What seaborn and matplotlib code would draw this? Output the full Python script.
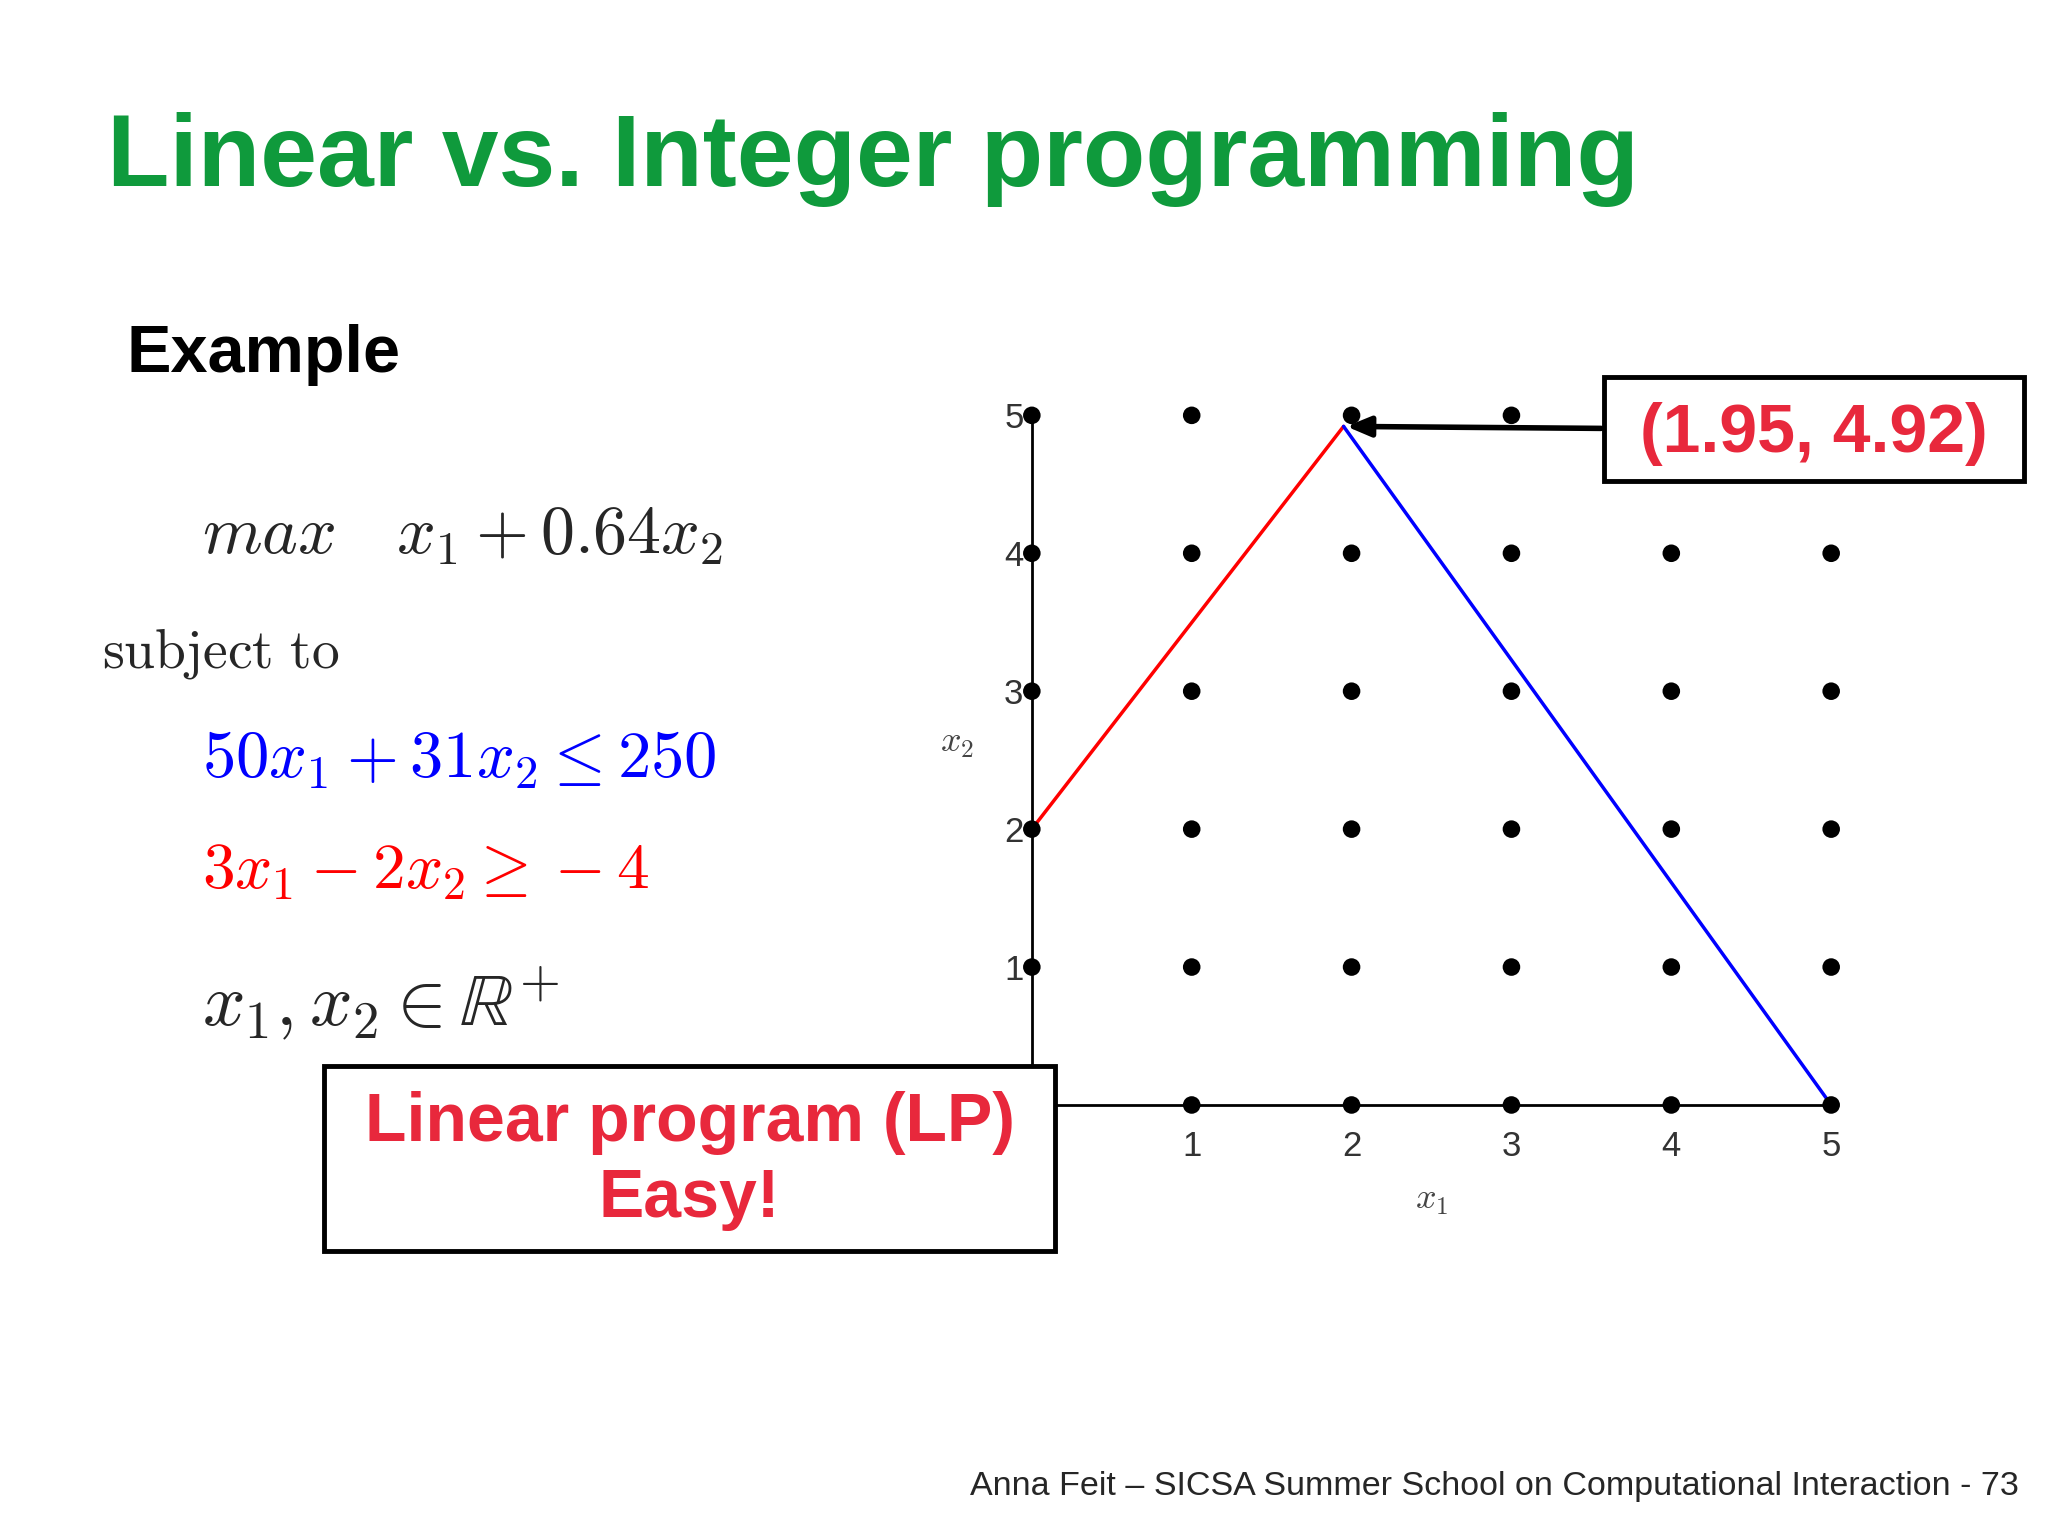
import matplotlib
matplotlib.use("Agg")
import matplotlib.pyplot as plt
import seaborn as sns
import pandas as pd
from matplotlib.patches import Rectangle

x_vals = [0,1,2,3, 0,1,2,3,4,5, 0,1,2,3,4,5, 0,1,2,3,4,5, 0,1,2,3,4,5, 0,1,2,3,4,5]
y_vals = [5,5,5,5, 4,4,4,4,4,4, 3,3,3,3,3,3, 2,2,2,2,2,2, 1,1,1,1,1,1, 0,0,0,0,0,0]
red_x = [0, 1.95]; red_y = [2, 4.92]
blue_x = [1.95, 5]; blue_y = [4.92, 0]
ticks = [1, 2, 3, 4, 5]
optimum = (1.95, 4.92)

sns.set_theme(style="white")
plt.rcParams['font.family'] = ['Liberation Sans', 'DejaVu Sans']
plt.rcParams['mathtext.fontset'] = 'cm'

W, H = 1568, 1176
fig = plt.figure(figsize=(20.48, 15.36), dpi=100)
def fx(px): return px / W
def fy(py): return 1 - py / H

ax = fig.add_axes([fx(790), fy(846), fx(1402) - fx(790), fy(318) - fy(846)])
ax.set_xlim(0, 5); ax.set_ylim(0, 5)
df = pd.DataFrame({"x": x_vals, "y": y_vals})
sns.lineplot(x=red_x, y=red_y, color="#ff0000", lw=2.5, ax=ax)
sns.lineplot(x=blue_x, y=blue_y, color="#0000ff", lw=2.5, ax=ax)
sns.scatterplot(data=df, x="x", y="y", color="black", s=160, edgecolor="none", ax=ax, clip_on=False, zorder=5)
for s in ["top", "right"]:
    ax.spines[s].set_visible(False)
for s in ["left", "bottom"]:
    ax.spines[s].set_color("black"); ax.spines[s].set_linewidth(2)
ax.set_xticks(ticks); ax.set_yticks(ticks)
ax.set_xticklabels([str(t) for t in ticks]); ax.set_yticklabels([str(t) for t in ticks])
ax.tick_params(labelsize=25, labelcolor="#333333", length=0)
ax.tick_params(axis="x", pad=18)
ax.tick_params(axis="y", pad=6)
ax.set_xlabel(r"$x_1$", fontsize=26, color="#444444", labelpad=14)
ax.set_ylabel(r"$x_2$", fontsize=26, color="#444444", rotation=0, labelpad=34)
ax.patch.set_alpha(0)

fig.text(fx(82), fy(122), "Linear vs. Integer programming", fontsize=73.5, fontweight="bold", color="#0f9a3c", va="center")
fig.text(fx(97), fy(272), "Example", fontsize=48, fontweight="bold", color="black", va="center")
fig.text(fx(155), fy(410), r"$max\quad x_1 + 0.64x_2$", fontsize=49, va="center")
fig.text(fx(78), fy(500), r"$\mathrm{subject\ to}$", fontsize=40, va="center")
fig.text(fx(155), fy(582), r"$50x_1 + 31x_2 \leq 250$", fontsize=48, color="#0000ff", va="center")
fig.text(fx(155), fy(668), r"$3x_1 - 2x_2 \geq -4$", fontsize=47, color="#ff0000", va="center")
fig.text(fx(155), fy(768), r"$x_1, x_2 \in \mathbb{R}^{+}$", fontsize=54, va="center")

fig.patches.append(Rectangle((fx(248), fy(958)), fx(808) - fx(248), fy(816) - fy(958), transform=fig.transFigure,
                             facecolor="white", edgecolor="black", lw=3.5, zorder=10))
fig.text(fx(528), fy(860), "Linear program (LP)", fontsize=49, fontweight="bold", color="#e8283c", ha="center", va="center", zorder=11)
fig.text(fx(528), fy(918), "Easy!", fontsize=49, fontweight="bold", color="#e8283c", ha="center", va="center", zorder=11)

fig.patches.append(Rectangle((fx(1228), fy(368)), fx(1550) - fx(1228), fy(289) - fy(368), transform=fig.transFigure,
                             facecolor="white", edgecolor="black", lw=3.5, zorder=10))
fig.text(fx(1389), fy(332), "(%.2f, %.2f)" % optimum, fontsize=49, fontweight="bold", color="#e8283c", ha="center", va="center", zorder=11)
ax.annotate("", xy=optimum, xytext=(fx(1228), fy(328)), textcoords="figure fraction",
            arrowprops=dict(arrowstyle="-|>,head_length=1.2,head_width=0.5", color="black", lw=4), zorder=9)

fig.text(fx(1546), fy(1138), "Anna Feit – SICSA Summer School on Computational Interaction - 73", fontsize=24.5, ha="right", va="center")
fig.savefig("out.png", dpi=100, facecolor="white")
